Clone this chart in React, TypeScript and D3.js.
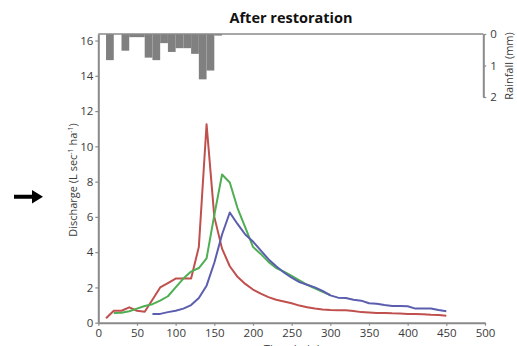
import * as d3 from "d3";
import { useRef, useEffect } from "react";

// discharge series, 10-min steps
const redTime = [10, 20, 30, 40, 50, 60, 70, 80, 90, 100, 110, 120, 130, 140, 150, 160, 170, 180, 190, 200, 210, 220, 230, 240, 250, 260, 270, 280, 290, 300, 310, 320, 330, 340, 350, 360, 370, 380, 390, 400, 410, 420, 430, 440, 450];
const redValues = [0.25, 0.68, 0.68, 0.87, 0.68, 0.62, 1.3, 2.0, 2.25, 2.5, 2.5, 2.5, 4.3, 11.25, 6.0, 4.2, 3.2, 2.6, 2.2, 1.88, 1.65, 1.45, 1.3, 1.2, 1.1, 0.97, 0.88, 0.8, 0.75, 0.72, 0.7, 0.7, 0.66, 0.6, 0.58, 0.55, 0.55, 0.53, 0.52, 0.5, 0.5, 0.48, 0.45, 0.43, 0.4];

const greenTime = [20, 30, 40, 50, 60, 70, 80, 90, 100, 110, 120, 130, 140, 150, 160, 170, 180, 190, 200, 210, 220, 230, 240, 250, 260, 270, 280, 290, 300];
const greenValues = [0.55, 0.57, 0.65, 0.8, 0.95, 1.05, 1.25, 1.5, 2.0, 2.5, 2.9, 3.1, 3.65, 6.1, 8.4, 7.95, 6.5, 5.4, 4.3, 3.9, 3.45, 3.1, 2.9, 2.65, 2.4, 2.15, 1.95, 1.75, 1.57];

const blueTime = [70, 80, 90, 100, 110, 120, 130, 140, 150, 160, 170, 180, 190, 200, 210, 220, 230, 240, 250, 260, 270, 280, 290, 300, 310, 320, 330, 340, 350, 360, 370, 380, 390, 400, 410, 420, 430, 440, 450];
const blueValues = [0.5, 0.5, 0.6, 0.68, 0.8, 1.0, 1.4, 2.1, 3.4, 5.0, 6.25, 5.6, 5.0, 4.6, 4.1, 3.6, 3.2, 2.85, 2.55, 2.3, 2.15, 2.0, 1.8, 1.55, 1.42, 1.4, 1.3, 1.25, 1.1, 1.08, 1.0, 0.95, 0.95, 0.93, 0.8, 0.8, 0.8, 0.72, 0.65];

// rainfall, start of each 10-min bin
const rainTime = [10, 30, 40, 50, 60, 70, 80, 90, 100, 110, 120, 130, 140, 150];
const rainMm = [0.83, 0.53, 0.1, 0.1, 0.75, 0.83, 0.29, 0.57, 0.45, 0.45, 0.63, 1.44, 1.16, 0.05];

const xTicks = [0, 50, 100, 150, 200, 250, 300, 350, 400, 450, 500];
const yTicks = [0, 2, 4, 6, 8, 10, 12, 14, 16];
const rainTicks = [0, 1, 2];

export default function App() {
  const svgRef = useRef(null);
  const width = 517;
  const height = 346;

  useEffect(() => {
    const svg = d3.select(svgRef.current);
    svg.selectAll("*").remove();

    const font = "'Open Sans', 'DejaVu Sans', sans-serif";
    const axisColor = "#8a8a8a";
    const textColor = "#3a3a3a";

    const x = d3.scaleLinear().domain([0, 500]).range([98.3, 485]);
    const y = d3.scaleLinear().domain([0, 16.37]).range([322.7, 34]);
    const rain = d3.scaleLinear().domain([0, 2]).range([34, 97]);

    // Rain bars hanging from the top
    svg
      .append("g")
      .selectAll("rect")
      .data(rainTime.map((t, i) => ({ t, v: rainMm[i] })))
      .join("rect")
      .attr("x", (d) => x(d.t))
      .attr("y", rain(0))
      .attr("width", (d) => x(d.t + 10) - x(d.t))
      .attr("height", (d) => rain(d.v) - rain(0))
      .attr("fill", "#808080");

    // top border
    svg
      .append("line")
      .attr("x1", x(0))
      .attr("x2", 483.3)
      .attr("y1", rain(0))
      .attr("y2", rain(0))
      .attr("stroke", axisColor)
      .attr("stroke-width", 1.5);

    const styleAxis = (g) => {
      g.select(".domain").attr("stroke", axisColor).attr("stroke-width", 2);
      g.selectAll(".tick line").attr("stroke", axisColor).attr("stroke-width", 1.2);
      g.selectAll(".tick text")
        .attr("fill", textColor)
        .style("font-family", font)
        .style("font-size", "11.5px");
    };

    // Left axis
    svg
      .append("g")
      .attr("transform", `translate(${x(0)},0)`)
      .call(d3.axisLeft(y).tickValues(yTicks).tickSize(3).tickSizeOuter(0).tickPadding(2))
      .call(styleAxis);

    // Bottom axis
    svg
      .append("g")
      .attr("transform", `translate(0,${y(0)})`)
      .call(d3.axisBottom(x).tickValues(xTicks).tickSize(3).tickSizeOuter(0).tickPadding(3))
      .call(styleAxis);

    // Right rain axis
    svg
      .append("g")
      .attr("transform", "translate(483.3,0)")
      .call(
        d3
          .axisRight(rain)
          .tickValues(rainTicks)
          .tickFormat(d3.format("d"))
          .tickSize(3)
          .tickSizeOuter(0)
          .tickPadding(4)
      )
      .call(styleAxis);

    // Lines
    const series = [
      { t: redTime, v: redValues, color: "#c0504d" },
      { t: greenTime, v: greenValues, color: "#4fae54" },
      { t: blueTime, v: blueValues, color: "#5b5eae" },
    ];
    const line = d3
      .line()
      .x((d) => x(d[0]))
      .y((d) => y(d[1]));
    series.forEach((s) => {
      svg
        .append("path")
        .datum(s.t.map((t, i) => [t, s.v[i]]))
        .attr("d", line)
        .attr("fill", "none")
        .attr("stroke", s.color)
        .attr("stroke-width", 2)
        .attr("stroke-linejoin", "round");
    });

    // Title
    svg
      .append("text")
      .attr("x", 291)
      .attr("y", 23)
      .attr("text-anchor", "middle")
      .style("font-family", font)
      .style("font-size", "14.5px")
      .style("font-weight", "bold")
      .attr("fill", "#111")
      .text("After restoration");

    // Y label
    const yl = svg
      .append("text")
      .attr("transform", "translate(77,180) rotate(-90)")
      .attr("text-anchor", "middle")
      .style("font-family", font)
      .style("font-size", "11px")
      .attr("fill", textColor);
    yl.append("tspan").text("Discharge (L sec");
    yl.append("tspan").attr("dy", -4).style("font-size", "7px").text("-1");
    yl.append("tspan").attr("dy", 4).text(" ha");
    yl.append("tspan").attr("dy", -4).style("font-size", "7px").text("-1");
    yl.append("tspan").attr("dy", 4).text(")");

    // Rain label
    svg
      .append("text")
      .attr("transform", "translate(513,66) rotate(-90)")
      .attr("text-anchor", "middle")
      .style("font-family", font)
      .style("font-size", "11px")
      .attr("fill", textColor)
      .text("Rainfall (mm)");

    // X label (partly below the frame, as in the source)
    svg
      .append("text")
      .attr("x", 292)
      .attr("y", 353)
      .attr("text-anchor", "middle")
      .style("font-family", font)
      .style("font-size", "11.5px")
      .attr("fill", textColor)
      .text("Time (min)");

    // Arrow
    svg
      .append("path")
      .attr("d", "M14,194.7 L32,194.7 L32,190 L43,196.7 L32,203.4 L32,198.7 L14,198.7 Z")
      .attr("fill", "#000");
  }, []);

  return (
    <svg
      ref={svgRef}
      width={width}
      height={height}
      style={{ position: "absolute", left: 0, top: 0, background: "#fff" }}
    ></svg>
  );
}
